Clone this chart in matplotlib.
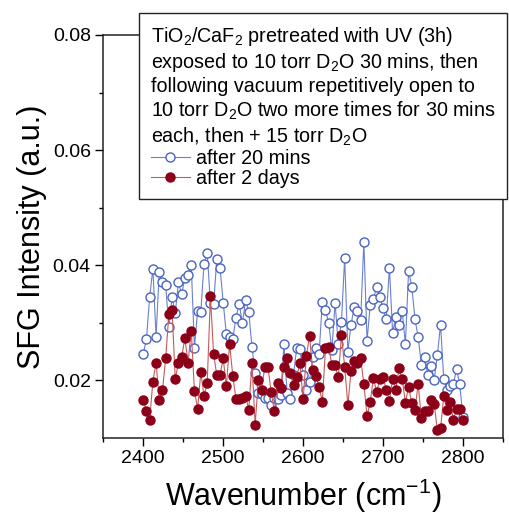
import numpy as np
import matplotlib
matplotlib.use("Agg")
import matplotlib.pyplot as plt

plt.rcParams["font.family"] = ["Liberation Sans", "DejaVu Sans"]
plt.rcParams["mathtext.fontset"] = "custom"
plt.rcParams["mathtext.rm"] = "Liberation Sans"
plt.rcParams["mathtext.it"] = "Liberation Sans:italic"

# wavenumber grid, 4 cm-1 steps
wavenumber = np.arange(2400, 2801, 4)

after_20_mins = [
    0.0246, 0.0272, 0.0345, 0.0394, 0.0276, 0.0388, 0.0371, 0.0365, 0.0292, 0.0344,
    0.0317, 0.0370, 0.0350, 0.0377, 0.0383, 0.0401, 0.0257, 0.0320, 0.0319, 0.0402,
    0.0422, 0.0334, 0.0332, 0.0411, 0.0396, 0.0335, 0.0280, 0.0275, 0.0272, 0.0309,
    0.0333, 0.0299, 0.0339, 0.0319, 0.0258, 0.0213, 0.0178, 0.0176, 0.0170, 0.0169,
    0.0157, 0.0170, 0.0167, 0.0174, 0.0263, 0.0178, 0.0167, 0.0210, 0.0256, 0.0255,
    0.0209, 0.0183, 0.0198, 0.0240, 0.0257, 0.0246, 0.0336, 0.0322, 0.0300, 0.0253,
    0.0335, 0.0263, 0.0302, 0.0413, 0.0250, 0.0297, 0.0328, 0.0320, 0.0304, 0.0441,
    0.0269, 0.0331, 0.0341, 0.0363, 0.0344, 0.0325, 0.0306, 0.0396, 0.0283, 0.0310,
    0.0297, 0.0320, 0.0263, 0.0390, 0.0363, 0.0306, 0.0275, 0.0227, 0.0240, 0.0209,
    0.0225, 0.0201, 0.0244, 0.0297, 0.0202, 0.0183, 0.0190, 0.0193, 0.0220, 0.0193,
    0.0137,
]

after_2_days = [
    0.0166, 0.0146, 0.0132, 0.0198, 0.0231, 0.0166, 0.0183, 0.0238, 0.0315, 0.0323,
    0.0202, 0.0231, 0.0240, 0.0273, 0.0231, 0.0286, 0.0182, 0.0151, 0.0214, 0.0173,
    0.0195, 0.0346, 0.0246, 0.0209, 0.0209, 0.0238, 0.0190, 0.0263, 0.0208, 0.0167,
    0.0167, 0.0170, 0.0173, 0.0149, 0.0230, 0.0123, 0.0201, 0.0183, 0.0223, 0.0223,
    0.0180, 0.0147, 0.0195, 0.0186, 0.0224, 0.0238, 0.0212, 0.0192, 0.0206, 0.0230,
    0.0167, 0.0242, 0.0277, 0.0218, 0.0208, 0.0189, 0.0163, 0.0256, 0.0258, 0.0227,
    0.0226, 0.0205, 0.0279, 0.0224, 0.0157, 0.0217, 0.0234, 0.0230, 0.0238, 0.0194,
    0.0138, 0.0163, 0.0204, 0.0180, 0.0202, 0.0206, 0.0184, 0.0165, 0.0202, 0.0184,
    0.0221, 0.0202, 0.0161, 0.0189, 0.0160, 0.0149, 0.0194, 0.0134, 0.0147, 0.0147,
    0.0166, 0.0159, 0.0114, 0.0117, 0.0172, 0.0149, 0.0163, 0.0131, 0.0150, 0.0150,
    0.0132,
]

legend_title = ("TiO$_2$/CaF$_2$ pretreated with UV (3h)\n"
                "exposed to 10 torr D$_2$O 30 mins, then\n"
                "following vacuum repetitively open to\n"
                "10 torr D$_2$O two more times for 30 mins\n"
                "each, then + 15 torr D$_2$O")

fig = plt.figure(figsize=(5.09, 5.14), dpi=100)
ax = fig.add_axes([0.203, 0.148, 0.785, 0.784])

ax.plot(wavenumber, after_20_mins, "-o", color="#6a80d0", lw=0.8,
        ms=6.5, mfc="white", mec="#4a64c0", mew=1.0, label="after 20 mins")
ax.plot(wavenumber, after_2_days, "-o", color="#c85a5a", lw=0.8,
        ms=6.5, mfc="#8b0018", mec="#8b0018", mew=1.0, label="after 2 days")

ax.set_xlim(2350, 2850)
ax.set_ylim(0.01, 0.08)
ax.set_xticks([2400, 2500, 2600, 2700, 2800])
ax.set_xticks(np.arange(2350, 2851, 50), minor=True)
ax.set_yticks([0.02, 0.04, 0.06, 0.08])
ax.set_yticks([0.03, 0.05, 0.07], minor=True)
ax.tick_params(which="major", direction="out", length=5.5, width=1.0,
               labelsize=14, top=False, right=False)
ax.tick_params(which="minor", direction="out", length=3, width=1.0,
               top=False, right=False)
for sp in ax.spines.values():
    sp.set_linewidth(1.1)
    sp.set_color("#222222")

ax.set_xlabel("Wavenumber (cm$^{-1}$)", fontsize=22, labelpad=7)
ax.set_ylabel("SFG Intensity (a.u.)", fontsize=22, labelpad=4)

leg = ax.legend(title=legend_title, title_fontsize=14.2, fontsize=14.2,
                alignment="left", loc="upper right",
                bbox_to_anchor=(507 / 509, 1 - 13 / 514),
                bbox_transform=fig.transFigure, borderaxespad=0,
                fancybox=False, framealpha=1, edgecolor="#222222",
                handlelength=2.0, handletextpad=0.3, labelspacing=0.05,
                borderpad=0.6)
leg.get_frame().set_linewidth(1.0)

fig.savefig("out.png", dpi=100)
